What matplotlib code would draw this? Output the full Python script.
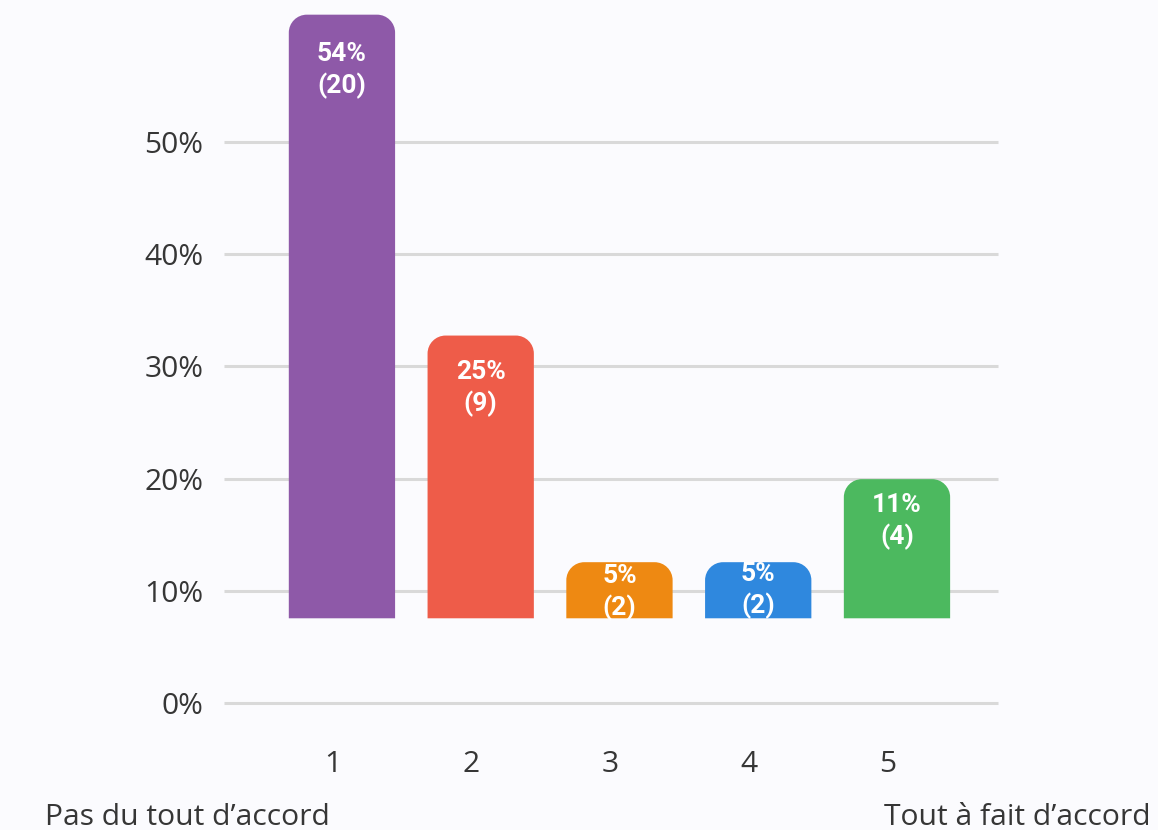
import numpy as np
import matplotlib
matplotlib.use("Agg")
import matplotlib.pyplot as plt
from matplotlib.path import Path
from matplotlib.patches import PathPatch

# data
categories = ["1", "2", "3", "4", "5"]
bar_heights = [53.8, 25.2, 5.0, 5.0, 12.4]   # % (bar length as drawn)
pct_labels = ["54%", "25%", "5%", "5%", "11%"]
count_labels = ["(20)", "(9)", "(2)", "(2)", "(4)"]
y_ticks = [0, 10, 20, 30, 40, 50]
left_text = "Pas du tout d\u2019accord"
right_text = "Tout \u00e0 fait d\u2019accord"

# style
colors = ["#8e59a8", "#ee5c49", "#ee8912", "#2f88de", "#4cb95f"]
bg = "#fbfbfe"
text_col = "#363636"
base = 7.55          # bars start above the 0 line in the reference
bar_w = 0.766
radius_px = 18
label_drop_px = [39, 36, 14, 12, 26]   # first label line below bar top
line_gap_px = 32
fs = 21.6

W, H = 1158, 830
fig = plt.figure(figsize=(W / 100, H / 100), dpi=100, facecolor=bg)
ax = fig.add_axes([224 / W, 127 / H, 774 / W, 0.8381])
ax.set_facecolor(bg)

x = np.arange(len(categories))
ax.set_xlim(-0.850, 4.728)
ax.set_ylim(0, 62)

bars = ax.bar(x, bar_heights, bottom=base, width=bar_w, color=colors, zorder=3)

# pixel -> data conversions
ax_w_px = 774
ax_h_px = 0.8381 * H
px_x = (4.728 + 0.850) / ax_w_px
px_y = 62 / ax_h_px

k = 0.5523
for i, b in enumerate(bars):
    x0, y0 = b.get_x(), b.get_y()
    w, h = b.get_width(), b.get_height()
    rx, ry = radius_px * px_x, radius_px * px_y
    x1, y1 = x0 + w, y0 + h
    verts = [
        (x0, y0), (x1, y0), (x1, y1 - ry),
        (x1, y1 - ry + k * ry), (x1 - rx + k * rx, y1), (x1 - rx, y1),
        (x0 + rx, y1),
        (x0 + rx - k * rx, y1), (x0, y1 - ry + k * ry), (x0, y1 - ry),
        (x0, y0),
    ]
    codes = [Path.MOVETO, Path.LINETO, Path.LINETO,
             Path.CURVE4, Path.CURVE4, Path.CURVE4,
             Path.LINETO,
             Path.CURVE4, Path.CURVE4, Path.CURVE4,
             Path.CLOSEPOLY]
    patch = PathPatch(Path(verts, codes), facecolor=colors[i], edgecolor="none", zorder=3)
    ax.add_patch(patch)
    b.set_visible(False)

    cx = x0 + w / 2
    for j, txt in enumerate([pct_labels[i], count_labels[i]]):
        dy = -(label_drop_px[i] + j * line_gap_px) * 0.72
        t = ax.annotate(txt, (cx, y1), xytext=(0, dy), textcoords="offset points",
                        ha="center", va="center", color="white", fontsize=19,
                        fontweight="bold", family="Roboto", zorder=4)
        t.set_clip_path(patch)

ax.set_yticks(y_ticks)
ax.set_yticklabels([f"{v}%" for v in y_ticks])
ax.set_xticks(x - 0.068)
ax.set_xticklabels(categories)
ax.tick_params(axis="both", length=0, labelsize=fs, labelcolor=text_col)
ax.tick_params(axis="y", pad=15)
ax.tick_params(axis="x", pad=34)
for lab in ax.get_xticklabels() + ax.get_yticklabels():
    lab.set_family("Open Sans")

ax.grid(axis="y", color="#d9d9d9", linewidth=2.2, zorder=1)
for gl in ax.get_ygridlines():
    gl.set_clip_on(False)
    gl.set_solid_capstyle("butt")
for s in ax.spines.values():
    s.set_visible(False)

fig.text(45 / W, 5 / H, left_text, ha="left", va="baseline", fontsize=fs,
         color=text_col, family="Open Sans")
fig.text(1151 / W, 5 / H, right_text, ha="right", va="baseline", fontsize=fs,
         color=text_col, family="Open Sans")

fig.savefig("out.png", dpi=100, facecolor=bg)
